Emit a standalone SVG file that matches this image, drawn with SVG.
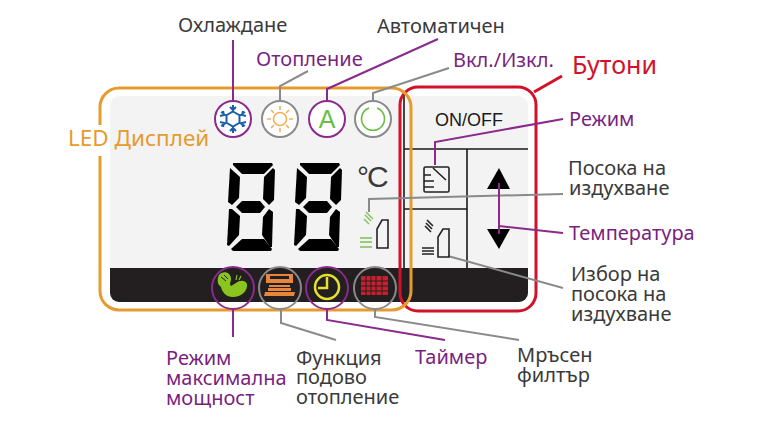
<svg xmlns="http://www.w3.org/2000/svg" width="779" height="430" viewBox="0 0 779 430">
<style>
text{font-family:"Noto Sans","Open Sans","DejaVu Sans",sans-serif;font-size:20px;fill:#3a3a3a}
.p{fill:#7a1f80}
.c{fill:none;stroke-width:2}
.cp{stroke:#8a2a8c}
.cg{stroke:#8a8a8a}
.k{stroke:#1a1a1a;stroke-width:1.6;fill:none}
.ic{fill:none;stroke:#222;stroke-width:1.6}
.gr{stroke:#7fbf5a;stroke-width:1.4;fill:none}
</style>
<defs>
<g id="digit" fill="#000">
<polygon points="6,1 45,1 46,3 37,12 15,12 6,3"/>
<polygon points="3,6 13,15 12,36 5,43 1,40"/>
<polygon points="46,6 48,8 47,38 42,43 36,37 37,15"/>
<polygon points="9,45 15,39 33,39 38,45 33,51 15,51"/>
<polygon points="2,47 5,47 13,54 12,73 2,84 0,83"/>
<polygon points="42,47 46,50 45,85 43,85 35,73 36,55"/>
<polygon points="4,87 15,77 37,77 45,87 44,89 6,89"/>
</g>
</defs>
<rect width="779" height="430" fill="#fff"/>
<g id="panel">
<rect x="110" y="96" width="418" height="206" rx="9" fill="#f3f3f3"/>
<path d="M110 268H528V293a9 9 0 0 1-9 9H119a9 9 0 0 1-9-9Z" fill="#231f20"/>
<path class="k" d="M404 95V268M404 149H528M467 149V268M404 209H467"/>
<use href="#digit" x="227" y="162"/>
<use href="#digit" x="294" y="162"/>
<text x="357" y="187" style="font-family:'Liberation Sans',sans-serif;font-size:30px;letter-spacing:-2px">°C</text>
</g>
<g id="frames">
<rect x="400" y="87" width="136" height="224" rx="18" fill="none" stroke="#d2112a" stroke-width="3"/>
<path d="M100 125V107a19 19 0 0 1 19-19H392a19 19 0 0 1 19 19V291a19 19 0 0 1-19 19H119a19 19 0 0 1-19-19V156" fill="none" stroke="#e59b2e" stroke-width="3"/>
</g>
<g id="connectors">
<path class="c cp" d="M233 40V100"/>
<path class="c cg" d="M308 71L280 86V100"/>
<path class="c cp" d="M438 39L327 89V100"/>
<path class="c cg" d="M449 68L373 93V100"/>
<path d="M534 92L562 76" fill="none" stroke="#d2112a" stroke-width="3"/>
<path class="c cp" d="M563 119L435 142V165"/>
<path class="c cg" d="M563 194L369 199V212"/>
<path class="c cp" d="M563 233L499 226M499 183V234"/>
<path class="c cg" d="M563 288L448 256"/>
<path class="c cp" d="M233 309V337"/>
<path class="c cg" d="M281 309V323L336 340"/>
<path class="c cp" d="M327 309V320L445 340"/>
<path class="c cg" d="M375 309V317L519 340"/>
</g>
<g id="node-cool">
<circle class="c cp" cx="233" cy="119" r="18" style="fill:#fff"/>
<g stroke="#1c5fa8" stroke-width="2" fill="none">
<polygon points="233,111.500 239.500,115.250 239.500,122.750 233,126.500 226.500,122.750 226.500,115.250"/>
<path d="M233 105V111.500M233 126.500V133M221 112L226.500 115.250M239.500 122.750L245 126M245 112L239.500 115.250M226.500 122.750L221 126M230 107L233 110L236 107M230 131L233 128L236 131M220 116L224 115L223 111M246 122L242 123L243 127M246 116L242 115L243 111M220 122L224 123L223 127"/>
</g>
</g>
<g id="node-heat">
<circle class="c cg" cx="280" cy="119" r="18" style="fill:#fff"/>
<g stroke="#f2b25c" stroke-width="1.600" fill="none">
<circle cx="280" cy="119" r="6.500"/>
<path d="M280 106V110M280 128V132M267 119H271M289 119H293M271 110L274 113M286 125L289 128M289 110L286 113M274 125L271 128"/>
</g>
</g>
<g id="node-auto">
<circle class="c cp" cx="327" cy="119" r="18" style="fill:#fff"/>
<text x="327" y="128" text-anchor="middle" style="font-size:25px;fill:#6cbd45;font-family:'Liberation Sans',sans-serif">A</text>
</g>
<g id="node-power">
<circle class="c cg" cx="373" cy="119" r="18" style="fill:#fff"/>
<path d="M377 108a11.500 11.500 0 1 1-8 0" fill="none" stroke="#6cbd45" stroke-width="1.600"/>
</g>
<g id="node-airflow">
<path class="gr" d="M365 215L371 221M366 212L373 219M364 219L369 224"/>
<path class="gr" d="M360 238H372M360 242H372M360 247H372"/>
<path d="M377 248H388V220H382L377 229Z" fill="none" stroke="#222" stroke-width="1.600"/>
</g>
<g id="node-power-btn">
<text x="469" y="126" text-anchor="middle" style="font-family:'Liberation Sans',sans-serif;font-size:18px;fill:#1a1a1a">ON/OFF</text>
</g>
<g id="node-mode-btn">
<rect class="ic" x="424" y="167" width="25" height="25" rx="1.500"/>
<path class="ic" d="M424 175H431M424 181H434M424 187H434M433 168L446 180"/>
</g>
<g id="node-direction-btn">
<path class="ic" d="M426 223L432 229M425 226L431 232M427 220L433 226"/>
<path class="ic" d="M422 248H434M422 251H434M422 254H434"/>
<path class="ic" d="M438 257H449V229H443L438 237Z"/>
</g>
<g id="node-temp-btn">
<polygon points="499,168 510,189 487,189" fill="#000"/>
<polygon points="487,229 510,229 499,249" fill="#000"/>
<path class="c cp" d="M499 183V234"/>
</g>
<g id="node-turbo">
<path fill="#8cc41f" d="M219 275C223 270 231 272 231 279C231 282 229 284 231 286L236 283C240 280 245 280 247 284C248 291 241 297 233 297C226 297 222 292 221 287C217 284 217 279 219 275Z"/>
<path d="M221 277L226 281M224 275L228 279" stroke="#231f20" stroke-width="1" fill="none"/>
<path d="M236 280L237 275M239 280L241 276" stroke="#8cc41f" stroke-width="1.200" fill="none"/>
<circle class="c cp" cx="233" cy="288" r="21"/>
</g>
<g id="node-floor">
<path fill="#e8863e" d="M266 274H293V283H266ZM269 285H290V287H269ZM268 288H291V291H268ZM265 292H295L294 296H264Z"/>
<rect x="270" y="276" width="19" height="3" fill="#231f20"/>
<circle class="c cg" cx="280" cy="288" r="21"/>
</g>
<g id="node-timer">
<circle cx="327" cy="287" r="12" fill="none" stroke="#e8e030" stroke-width="2.500"/>
<path d="M327 277V288H318" fill="none" stroke="#e8e030" stroke-width="2.500"/>
<circle class="c cp" cx="327" cy="288" r="21"/>
</g>
<g id="node-filter">
<rect x="361" y="276" width="27" height="19" rx="1" fill="#c8202f"/>
<path stroke="#231f20" stroke-width="1" d="M361 281H388M361 286H388M361 291H388M366 276V295M371 276V295M376 276V295M382 276V295"/>
<circle class="c cg" cx="375" cy="288" r="21"/>
</g>
<g id="labels">
<text x="178" y="32">Охлаждане</text>
<text class="p" x="256" y="66">Отопление</text>
<text x="377" y="33">Автоматичен</text>
<text class="p" x="453" y="67">Вкл./Изкл.</text>
<text x="572" y="74" style="font-size:25px;fill:#d2112a">Бутони</text>
<text x="68" y="146" style="font-size:22.500px;fill:#e59b2e">LED Дисплей</text>
<text class="p" x="569" y="126">Режим</text>
<text x="568" y="175">Посока на</text>
<text x="569" y="195">издухване</text>
<text class="p" x="569" y="240">Температура</text>
<text x="571" y="281">Избор на</text>
<text x="571" y="301">посока на</text>
<text x="571" y="321">издухване</text>
<text class="p" x="166" y="365">Режим</text>
<text class="p" x="166" y="385">максимална</text>
<text class="p" x="166" y="405">мощност</text>
<text x="296" y="365">Функция</text>
<text x="296" y="384">подово</text>
<text x="296" y="404">отопление</text>
<text class="p" x="415" y="364">Таймер</text>
<text x="517" y="362">Мръсен</text>
<text x="517" y="382">филтър</text>
</g>
</svg>
